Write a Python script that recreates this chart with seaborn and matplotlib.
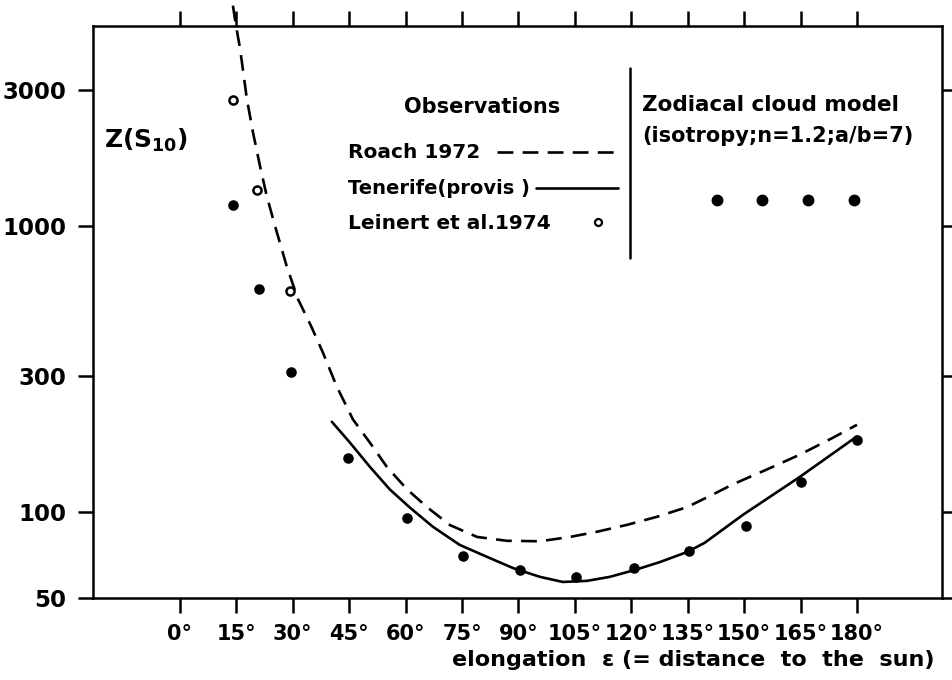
import matplotlib
matplotlib.use("Agg")
import matplotlib.pyplot as plt
from matplotlib.lines import Line2D
from matplotlib.ticker import NullLocator
import seaborn as sns

# zodiacal cloud model (filled dots)
model_elong = [14.2, 21, 29.5, 44.7, 60.4, 75.2, 90.4, 105.3, 120.7, 135.3, 150.5, 165.1, 180]
model_z = [1186, 602, 308, 154, 95.5, 70, 62.7, 59.3, 63.7, 73, 89.5, 127, 178]

# Leinert et al. 1974 (open circles)
leinert_elong = [14.2, 20.5, 29.3]
leinert_z = [2773, 1340, 593]

# Roach 1972 (dashed)
roach_elong = [14.1, 14.9, 16.0, 17.8, 19.4, 21.3, 23.1, 25.3, 28.4, 31.4, 34.8, 38.0,
               41.7, 46.0, 50.5, 55.0, 60.4, 65.7, 71.8, 79.0, 86.9, 95.7, 103.7, 110.9,
               118.9, 126.8, 134.8, 141.0, 147.0, 156.1, 164.9, 173.6, 180]
roach_z = [5930, 5050, 4190, 2795, 2143, 1626, 1276, 1002, 725, 556, 450, 362,
           275, 211, 175, 144, 120, 104, 90, 81.8, 79.3, 79, 81.8, 85.3,
           90.2, 96.2, 104, 114, 125, 141, 159, 182, 202]

# Tenerife provisional (solid)
ten_elong = [40.4, 45.2, 50.5, 55.8, 61.2, 67.3, 74.4, 81.6, 88.5, 95.7, 101.8, 108.2,
             114.3, 121.0, 127.6, 134.8, 139.5, 149.7, 164.9, 180]
ten_z = [207, 175, 144, 120, 103.5, 88.7, 76.7, 69.7, 63.7, 59.3, 56.9, 57.4,
         59.3, 62.7, 66.8, 72.4, 78, 97.8, 133, 184]

xticks = [0, 15, 30, 45, 60, 75, 90, 105, 120, 135, 150, 165, 180]
xticklabels = [f"{v}°" for v in xticks]
yticks = [50, 100, 300, 1000, 3000]
yticklabels = ["50", "100", "300", "1000", "3000"]

sns.set_style("ticks")
plt.rcParams["font.family"] = ["DejaVu Sans"]
plt.rcParams["font.weight"] = "bold"
for k in ["text.color", "axes.labelcolor", "xtick.color", "ytick.color", "axes.edgecolor"]:
    plt.rcParams[k] = "black"

W, H = 952, 680
fig = plt.figure(figsize=(W / 100, H / 100), dpi=100)
ax = fig.add_axes([93 / W, 1 - 598 / H, (942 - 93) / W, (598 - 26) / H])
ax.set_yscale("log")

sns.lineplot(x=roach_elong, y=roach_z, color="black", linewidth=1.9,
             linestyle=(0, (6, 3.5)), ax=ax)
sns.lineplot(x=ten_elong, y=ten_z, color="black", linewidth=1.9, ax=ax)
ax.lines[0].set_clip_on(False)

sns.scatterplot(x=model_elong, y=model_z, color="black", s=58, edgecolor="black",
                linewidth=0, ax=ax, zorder=3)
sns.scatterplot(x=leinert_elong, y=leinert_z, color="white", s=34, edgecolor="black",
                linewidth=1.8, ax=ax, zorder=3)

ax.set_xlim(-23.1, 202.6)
ax.set_ylim(50, 5030)
ax.set_xticks(xticks)
ax.set_xticklabels(xticklabels, fontsize=15, fontweight="bold")
ax.set_yticks(yticks)
ax.set_yticklabels(yticklabels, fontsize=16.5, fontweight="bold")
ax.yaxis.set_minor_locator(NullLocator())
ax.tick_params(axis="x", which="major", direction="out", length=11, width=1.8, pad=8,
               top=True, bottom=True)
ax.tick_params(axis="y", which="major", direction="out", length=11, width=1.8, pad=8,
               left=True, right=True)
for s in ax.spines.values():
    s.set_linewidth(1.8)
    s.set_visible(True)

ax.set_xlabel("elongation  ε (= distance  to  the  sun)", fontsize=16, fontweight="bold")
ax.xaxis.set_label_coords(1 - 7 / 849, -(650 - 598) / 572)
ax.xaxis.label.set_horizontalalignment("right")

def fx(px):
    return px / W

def fy(py):
    return 1 - py / H

# annotations
fig.text(fx(104), fy(140), "Z(S$_{\\mathbf{10}}$)", fontsize=18, fontweight="bold",
         va="center", ha="left")
fig.text(fx(482), fy(107), "Observations", fontsize=15, fontweight="bold", va="center", ha="center")
fig.text(fx(348), fy(152), "Roach 1972", fontsize=14.5, fontweight="bold", va="center", ha="left")
fig.text(fx(348), fy(188), "Tenerife(provis )", fontsize=14, fontweight="bold", va="center", ha="left")
fig.text(fx(348), fy(224), "Leinert et al.1974", fontsize=14.5, fontweight="bold", va="center", ha="left")
fig.text(fx(642), fy(105), "Zodiacal cloud model", fontsize=15.5, fontweight="bold", va="center", ha="left")
fig.text(fx(642), fy(136), "(isotropy;n=1.2;a/b=7)", fontsize=15, fontweight="bold", va="center", ha="left")

fig.add_artist(Line2D([fx(497), fx(618)], [fy(152), fy(152)], color="black", lw=1.9,
                      linestyle=(0, (6, 3.5)), transform=fig.transFigure))
fig.add_artist(Line2D([fx(536), fx(618)], [fy(188), fy(188)], color="black", lw=1.9,
                      transform=fig.transFigure))
fig.add_artist(Line2D([fx(598)], [fy(222)], marker="o", markersize=5, mfc="white",
                      mec="black", mew=1.6, linestyle="none", transform=fig.transFigure))
fig.add_artist(Line2D([fx(630), fx(630)], [fy(68), fy(258)], color="black", lw=1.8,
                      transform=fig.transFigure))
fig.add_artist(Line2D([fx(717), fx(762), fx(808), fx(854)], [fy(200)] * 4, marker="o",
                      markersize=7.5, color="black", linestyle="none",
                      transform=fig.transFigure))

fig.savefig("out.png", dpi=100)
